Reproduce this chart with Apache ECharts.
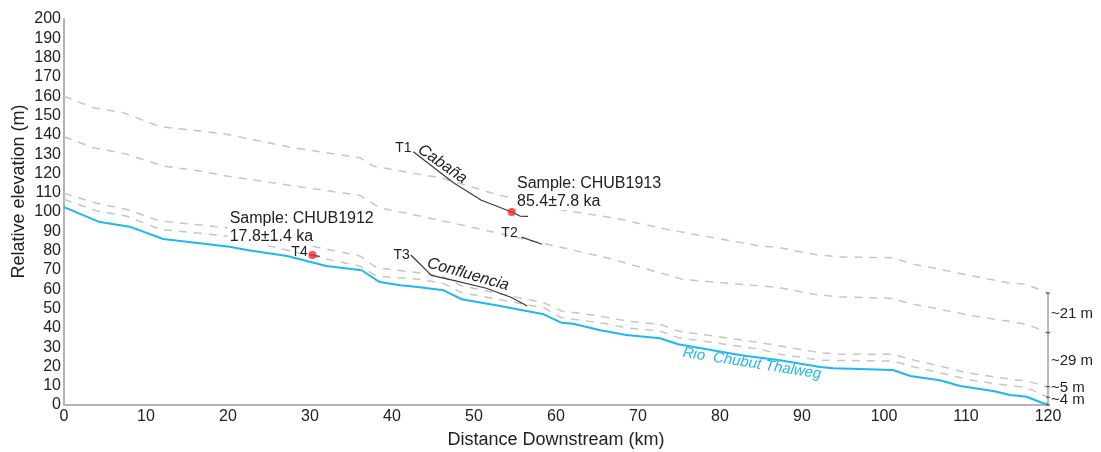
<!DOCTYPE html>
<html>
<head>
<meta charset="utf-8">
<script src="https://cdn.jsdelivr.net/npm/echarts@6/dist/echarts.min.js"></script>
<style>
  html, body { margin: 0; padding: 0; background: #ffffff; }
  #chart { width: 1101px; height: 452px; }
</style>
</head>
<body>
<div id="chart"></div>
<script>
// Longitudinal profile of the Rio Chubut: distance downstream (km) vs relative elevation (m)

// River thalweg
const thalweg = [
  [0, 102.5], [4.2, 95], [8, 92.4], [12.1, 86], [20.2, 82], [22.3, 80.3], [27.2, 77.2],
  [29.6, 74.6], [32, 72], [36.3, 69.8], [38.5, 63.7], [41, 62], [43.4, 61], [46.3, 59.4],
  [48.5, 54.8], [53.2, 51.3], [58.5, 47], [60.7, 42.6], [62.1, 42.1], [65.4, 38.7],
  [68.6, 36.3], [72.7, 34.6], [74.9, 31.5], [82.4, 25.9], [84.9, 24.5], [87.3, 23.2],
  [92.2, 19.7], [93.8, 19], [101.1, 18.1], [103.2, 15], [106.8, 12.8], [109.3, 9.8],
  [113.3, 7.3], [115.4, 5.2], [117.4, 4.3], [119.4, 0.9], [120, 0.5]
];

// Reconstructed terrace surfaces (dashed)
const terraceT1 = [
  [0, 160], [3.6, 154], [7.2, 151.5], [11.7, 144.2], [16.6, 142], [19.8, 140.3],
  [27.9, 133.3], [36.1, 128.1], [37.7, 123.8], [43.4, 119.5], [45.9, 117.8], [52, 110],
  [60.1, 101.4], [67, 97], [73.5, 91], [84.9, 82.4], [87.3, 81.5], [91.4, 78.1],
  [94.6, 76.7], [101.1, 76.3], [103.6, 72.9], [106.8, 70.3], [110.9, 66.8], [115, 63.4],
  [117.4, 62.5], [120, 58]
];
const terraceT2 = [
  [0, 139], [3.6, 133.3], [7.6, 130], [12.1, 123.8], [16.6, 121.2], [19.8, 118.7],
  [27.9, 113.6], [36.1, 108.6], [38.5, 102.2], [43.4, 97.9], [49.1, 92.7], [58.9, 83.3],
  [66.2, 76.3], [75.5, 65.1], [84.9, 61.7], [87.3, 60.8], [91.4, 57.4], [94.6, 56],
  [100.7, 55.3], [103.6, 52.2], [106.8, 49.6], [110.9, 46.1], [115, 43.5], [117.4, 41.8],
  [120, 37.5]
];
const terraceT3 = [
  [0, 109.7], [4, 104.5], [7.6, 101.4], [11.7, 95.3], [19.8, 91.9], [31.2, 81.5],
  [36.1, 77.2], [38.1, 71.1], [43.4, 68.5], [46.3, 66.3], [48.5, 61.7], [58.5, 53],
  [60.7, 48.7], [65.4, 46.1], [68.6, 43.5], [72.7, 41.8], [74.9, 38.3], [84.9, 32.3],
  [87.3, 30.6], [92.2, 27.1], [94.6, 26.3], [101.1, 26.3], [103.2, 23.7], [106.8, 20.2],
  [110.1, 16.7], [114.1, 14.1], [117.4, 12.4], [120, 9.5]
];
const terraceT4 = [
  [0, 106.6], [4, 100.5], [7.6, 97.9], [11.7, 91], [19.8, 87.6], [31.2, 76.3],
  [36.1, 72], [38.1, 66.8], [43.4, 65.1], [46.3, 62.9], [48.5, 58.2], [58.5, 50.4],
  [60.7, 45.2], [65.4, 42.6], [68.6, 40], [72.7, 38.3], [74.9, 34.9], [84.9, 28.9],
  [87.3, 26.3], [92.2, 23.2], [101.1, 22.8], [103.2, 20.2], [106.8, 16.7], [110.1, 13.3],
  [114.1, 10.7], [117.4, 9], [120, 4]
];

// Mapped terrace treads (solid)
const treadT1 = [[42.6, 131.2], [47.5, 115.2], [50.9, 106.1], [54.6, 100], [55.6, 97.9], [56.6, 97.7]];
const treadT2 = [[55.8, 87], [58.3, 83.3]];
const treadT3 = [[42.3, 77.7], [44.8, 67.2], [47.5, 64.6], [51.5, 60.5], [54.5, 55.8], [56.5, 51.3]];
const treadT4 = [[29.9, 77.9], [31.2, 77.0]];

// Dated samples
const sampleCHUB1913 = [54.6, 100];
const sampleCHUB1912 = [30.3, 77.7];

// Terrace heights at the downstream end
const bracketLevels = [58, 37.5, 9.5, 4, 0];
const bracketLabels = ['~21 m', '~29 m', '~5 m', '~4 m'];
const bracketLabelAt = [47.4, 23.1, 9.1, 2.85];

const FONT = "'Liberation Sans', Arial, Helvetica, sans-serif";
const INK = '#222222';
const RIVER = '#1db8ee';

const chart = echarts.init(document.getElementById('chart'), null, { renderer: 'canvas' });

const dashed = (name, data) => ({
  name, type: 'line', data, symbol: 'none', silent: true, z: 2,
  lineStyle: { color: '#c6c6c6', width: 1.5, type: [8, 7] }
});
const tread = (name, data) => ({
  name, type: 'line', data, symbol: 'none', silent: true, z: 4,
  lineStyle: { color: '#3a3a3a', width: 1.2 }
});

chart.setOption({
  animation: false,
  backgroundColor: '#ffffff',
  grid: { left: 64, right: 53, top: 19, bottom: 47, containLabel: false, outerBoundsMode: 'none' },
  xAxis: {
    type: 'value', min: 0, max: 120, interval: 10,
    name: 'Distance Downstream (km)', nameLocation: 'middle', nameGap: 26,
    nameTextStyle: { fontFamily: FONT, fontSize: 18, color: INK },
    axisLine: { show: true, lineStyle: { color: '#b4b4b4', width: 2 } },
    axisTick: { show: false },
    splitLine: { show: false },
    axisLabel: { fontFamily: FONT, fontSize: 16, color: INK, margin: 4 }
  },
  yAxis: {
    type: 'value', min: 0, max: 200, interval: 10,
    axisLine: { show: true, lineStyle: { color: '#b4b4b4', width: 2 } },
    axisTick: { show: false },
    splitLine: { show: false },
    axisLabel: { fontFamily: FONT, fontSize: 16, color: INK, margin: 3 }
  },
  series: [
    dashed('T1 surface', terraceT1),
    dashed('T2 surface', terraceT2),
    dashed('T3 surface', terraceT3),
    dashed('T4 surface', terraceT4),
    {
      name: 'Thalweg', type: 'line', data: thalweg, symbol: 'none', silent: true, z: 3,
      lineStyle: { color: RIVER, width: 2 }
    },
    tread('T1 Cabaña', treadT1),
    tread('T2', treadT2),
    tread('T3 Confluencia', treadT3),
    tread('T4', treadT4),
    {
      name: 'Samples', type: 'scatter', data: [sampleCHUB1913, sampleCHUB1912],
      symbol: 'circle', symbolSize: 8, silent: true, z: 6,
      itemStyle: { color: '#ff2626' }
    },
    {
      name: 'Height bracket', type: 'line',
      data: bracketLevels.map(v => [120, v]),
      symbol: 'rect', symbolSize: [4, 1.2], silent: true, z: 5,
      clip: false,
      lineStyle: { color: '#777777', width: 1 },
      itemStyle: { color: '#555555' }
    }
  ]
});

// Text annotations placed in data coordinates
const annotations = [
  { text: 'T1', at: [41.38, 133.3], size: 14 },
  { text: 'T2', at: [54.33, 89.0], size: 14 },
  { text: 'T3', at: [41.18, 77.6], size: 14 },
  { text: 'T4', at: [28.72, 79.0], size: 14 },
  { text: 'Cabaña', at: [46.16, 124.8], size: 16, italic: true, angle: -35 },
  { text: 'Confluencia', at: [49.27, 67.7], size: 16, italic: true, angle: -16 },
  { text: 'Rio  Chubut Thalweg', at: [83.9, 21.5], size: 15, italic: true, angle: -9, color: RIVER },
  { text: 'Sample: CHUB1912\n17.8±1.4 ka', at: [19.96, 92.1], size: 16, align: 'left', lh: 18, bg: true },
  { text: 'Sample: CHUB1913\n85.4±7.8 ka', at: [55.0, 110.3], size: 16, align: 'left', lh: 18, bg: true }
];

function drawAnnotations() {
  const els = [];
  annotations.forEach(a => {
    const p = chart.convertToPixel({ gridIndex: 0 }, a.at);
    els.push({
      type: 'text', x: p[0], y: p[1], z: 100,
      rotation: (a.angle || 0) * Math.PI / 180,
      silent: true,
      style: {
        text: a.text,
        font: (a.italic ? 'italic ' : '') + a.size + 'px ' + FONT,
        fill: a.color || INK,
        align: a.align || 'center',
        verticalAlign: 'middle',
        lineHeight: a.lh || a.size,
        backgroundColor: a.bg ? '#ffffff' : 'transparent',
        padding: a.bg ? [0, 2] : 0
      }
    });
  });
  bracketLabels.forEach((t, i) => {
    const p = chart.convertToPixel({ gridIndex: 0 }, [120, bracketLabelAt[i]]);
    els.push({
      type: 'text', x: p[0] + 3, y: p[1], z: 100, silent: true,
      style: { text: t, font: '15px ' + FONT, fill: INK, align: 'left', verticalAlign: 'middle' }
    });
  });
  // vertical axis title
  els.push({
    type: 'text', x: 19, y: 191.5, z: 100, silent: true,
    rotation: Math.PI / 2,
    style: { text: 'Relative elevation (m)', font: '18px ' + FONT, fill: INK, align: 'center', verticalAlign: 'middle' }
  });
  chart.setOption({ graphic: { elements: els } });
}
drawAnnotations();
</script>
</body>
</html>
